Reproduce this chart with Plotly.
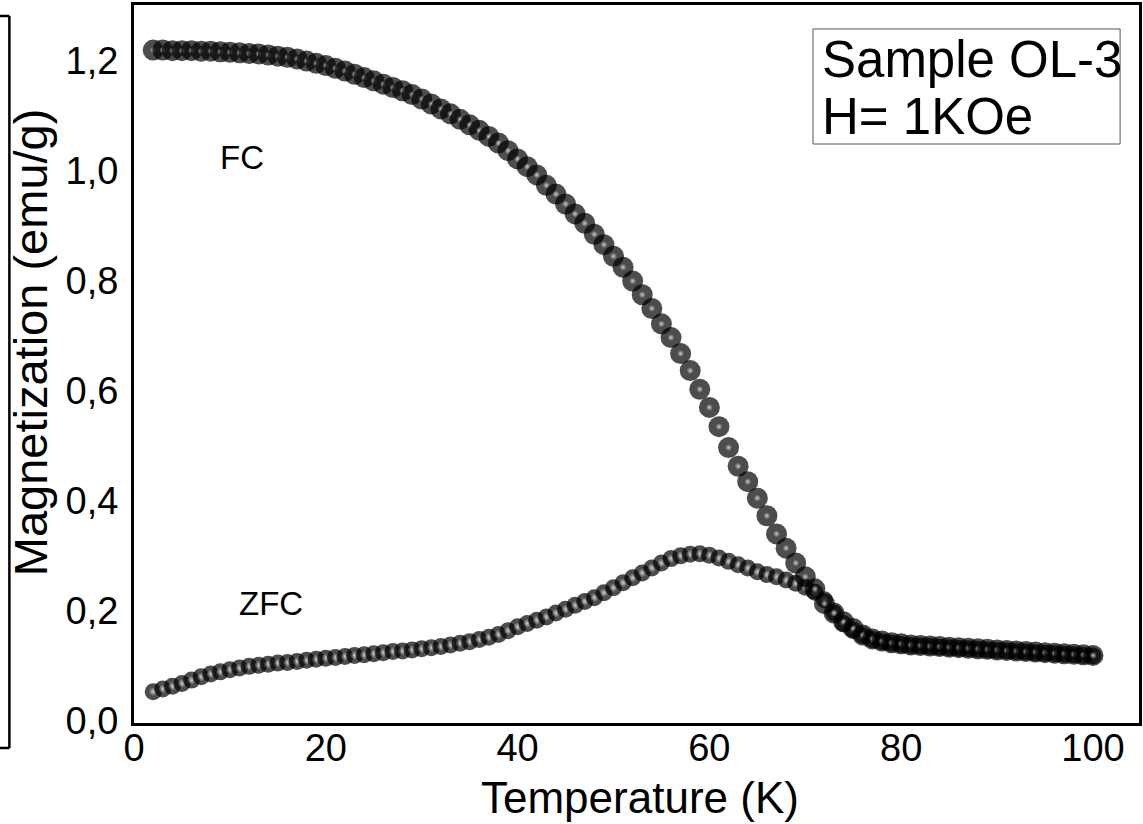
import plotly.graph_objects as go

temperature = list(range(2, 101))

fc_magnetization = [
    1.220, 1.220, 1.219, 1.219, 1.219, 1.218, 1.218, 1.217, 1.216, 1.215,
    1.214, 1.213, 1.211, 1.209, 1.207, 1.204, 1.200, 1.196, 1.192, 1.187,
    1.182, 1.176, 1.170, 1.164, 1.158, 1.152, 1.146, 1.139, 1.131, 1.122,
    1.113, 1.104, 1.094, 1.084, 1.074, 1.063, 1.051, 1.037, 1.022, 1.008,
    0.993, 0.974, 0.958, 0.940, 0.922, 0.905, 0.885, 0.866, 0.845, 0.825,
    0.800, 0.775, 0.750, 0.722, 0.697, 0.668, 0.637, 0.603, 0.570, 0.535,
    0.497, 0.463, 0.435, 0.405, 0.373, 0.340, 0.314, 0.287, 0.262, 0.240,
    0.213, 0.196, 0.180, 0.168, 0.156, 0.149, 0.145, 0.142, 0.140, 0.138,
    0.137, 0.136, 0.135, 0.134, 0.133, 0.132, 0.131, 0.130, 0.129, 0.128,
    0.127, 0.126, 0.125, 0.124, 0.123, 0.122, 0.121, 0.120, 0.119,
]

zfc_magnetization = [
    0.053, 0.058, 0.063, 0.068, 0.074, 0.080, 0.085, 0.089, 0.093, 0.096,
    0.099, 0.101, 0.103, 0.105, 0.106, 0.108, 0.110, 0.112, 0.114, 0.115,
    0.117, 0.119, 0.120, 0.122, 0.124, 0.126, 0.127, 0.129, 0.131, 0.133,
    0.135, 0.138, 0.141, 0.144, 0.148, 0.152, 0.157, 0.164, 0.171, 0.177,
    0.183, 0.189, 0.196, 0.203, 0.210, 0.217, 0.224, 0.233, 0.242, 0.251,
    0.260, 0.269, 0.278, 0.287, 0.295, 0.300, 0.303, 0.304, 0.301, 0.296,
    0.290, 0.284, 0.278, 0.271, 0.266, 0.262, 0.256, 0.250, 0.243, 0.234,
    0.220, 0.196, 0.177, 0.165, 0.155, 0.148, 0.144, 0.141, 0.139, 0.137,
    0.136, 0.135, 0.134, 0.133, 0.132, 0.131, 0.130, 0.129, 0.128, 0.127,
    0.126, 0.125, 0.124, 0.123, 0.122, 0.121, 0.120, 0.119, 0.118,
]

x_ticks = [0, 20, 40, 60, 80, 100]
x_tick_labels = ["0", "20", "40", "60", "80", "100"]
y_ticks = [0.0, 0.2, 0.4, 0.6, 0.8, 1.0, 1.2]
y_tick_labels = ["0,0", "0,2", "0,4", "0,6", "0,8", "1,0", "1,2"]

FONT = "Liberation Sans, Arial, sans-serif"


def sphere_trace(xs, ys, size, hl_size, hl_color):
    """Interleave a black ball and its highlight for every point so that
    each ball covers the highlight of the one before it.
    (radial gradient: marker.color = edge, gradient.color = centre)"""
    px, py, sizes, cols, gcols = [], [], [], [], []
    for xv, yv in zip(xs, ys):
        px += [xv, xv]
        py += [yv, yv]
        sizes += [size, hl_size]
        cols += ["#000000", "rgba(255,255,255,0)"]
        gcols += ["#000000", hl_color]
    return go.Scatter(
        x=px, y=py, mode="markers", showlegend=False, hoverinfo="skip",
        marker=dict(size=sizes, color=cols,
                    gradient=dict(type="radial", color=gcols),
                    line=dict(width=0)),
    )


fig = go.Figure()
fig.add_trace(sphere_trace(temperature, zfc_magnetization, 17, 9, "#ffffff"))
fig.add_trace(sphere_trace(temperature, fc_magnetization, 21, 7, "#ffffff"))

fig.add_annotation(x=11.3, y=1.024, text="FC", showarrow=False,
                   font=dict(family=FONT, size=33, color="black"))
fig.add_annotation(x=14.3, y=0.213, text="ZFC", showarrow=False,
                   font=dict(family=FONT, size=33, color="black"))

# info box
fig.add_shape(type="rect", xref="paper", yref="paper",
              x0=0.6756, x1=0.9812, y0=0.8064, y1=0.9666,
              line=dict(color="#555555", width=1), fillcolor="white", layer="below")
fig.add_annotation(xref="paper", yref="paper", x=0.6825, y=0.9234,
                   xanchor="left", yanchor="middle", text="Sample OL-3",
                   showarrow=False, font=dict(family=FONT, size=51, color="black"))
fig.add_annotation(xref="paper", yref="paper", x=0.6825, y=0.8454,
                   xanchor="left", yanchor="middle", text="H= 1KOe",
                   showarrow=False, font=dict(family=FONT, size=51, color="black"))

fig.add_annotation(xref="paper", yref="paper", x=-0.103, y=0.531,
                   xanchor="center", yanchor="middle",
                   text="Magnetization (emu/g)", textangle=-90, showarrow=False,
                   font=dict(family=FONT, size=47, color="black"))
fig.add_annotation(xref="paper", yref="paper", x=0.503, y=-0.1031,
                   xanchor="center", yanchor="middle",
                   text="Temperature (K)", showarrow=False,
                   font=dict(family=FONT, size=44, color="black"))

# bracket line at far left
for x0, y0, x1, y1 in [(-0.124, 0.9847, -0.124, -0.0348),
                       (-0.14, 0.9847, -0.124, 0.9847),
                       (-0.14, -0.0348, -0.124, -0.0348)]:
    fig.add_shape(type="line", xref="paper", yref="paper",
                  x0=x0, y0=y0, x1=x1, y1=y1,
                  line=dict(color="black", width=2.5))

fig.update_xaxes(range=[0, 104.8], tickvals=x_ticks, ticktext=x_tick_labels,
                 showgrid=False, zeroline=False, showline=True, mirror=True,
                 linecolor="black", linewidth=3, ticks="",
                 ticklabelstandoff=-11,
                 tickfont=dict(family=FONT, size=38, color="black"))
fig.update_yaxes(range=[-0.004, 1.302], tickvals=y_ticks, ticktext=y_tick_labels,
                 showgrid=False, zeroline=False, showline=True, mirror=True,
                 linecolor="black", linewidth=3, ticks="",
                 ticklabelstandoff=5,
                 tickfont=dict(family=FONT, size=38, color="black"))

fig.update_layout(
    width=1143, height=824,
    margin=dict(l=134, r=1, t=5, b=101),
    paper_bgcolor="white", plot_bgcolor="white",
    showlegend=False,
)

fig.write_html("out.html")
